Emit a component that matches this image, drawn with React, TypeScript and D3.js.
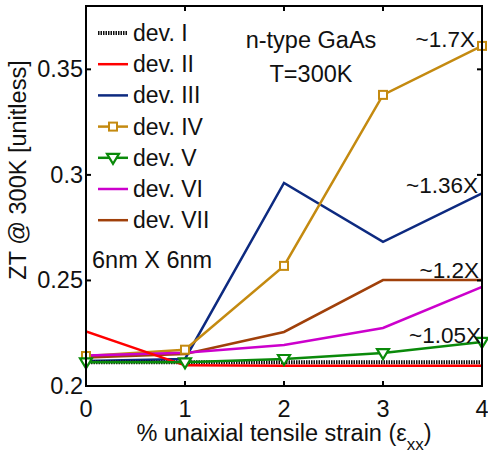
import React from 'react';
import * as d3 from 'd3';

// strain values (% uniaxial tensile)
const strain = [0, 1, 2, 3, 4];

const devI = [0.2112, 0.2112, 0.2112, 0.2112, 0.2112];
const devII = [0.2258, 0.2098, 0.2096, 0.2096, 0.2096];
const devIII = [0.2118, 0.2128, 0.2962, 0.2683, 0.2912];
const devIV = [0.2142, 0.2172, 0.2569, 0.3379, 0.3611];
const devV = [0.2112, 0.2112, 0.2128, 0.2156, 0.2209];
const devVI = [0.2145, 0.2158, 0.2194, 0.2275, 0.2469];
const devVII = [0.2135, 0.2152, 0.2256, 0.2502, 0.2502];

const seriesNames = ['dev. I', 'dev. II', 'dev. III', 'dev. IV', 'dev. V', 'dev. VI', 'dev. VII'];
const seriesValues = [devI, devII, devIII, devIV, devV, devVI, devVII];
const seriesColors = ['#111111', '#ff0000', '#0d2a80', '#c48a10', '#0a8a0a', '#cc00cc', '#a0400a'];
const seriesMarkers = ['none', 'none', 'none', 'square', 'triangle', 'none', 'none'];

const xTicks = [0, 1, 2, 3, 4];
const yTicks = [0.2, 0.25, 0.3, 0.35];

const annotations = [
  { text: '~1.7X', x: 475, y: 47 },
  { text: '~1.36X', x: 478, y: 193 },
  { text: '~1.2X', x: 479, y: 278 },
  { text: '~1.05X', x: 481, y: 343 },
];

const W = 488;
const H = 455;
const margin = { top: 6, right: 6, bottom: 69, left: 86 };
const font = 'Liberation Sans, Arial, Helvetica, sans-serif';

const Marker = ({ kind, x, y, color }: { kind: string; x: number; y: number; color: string }) => {
  if (kind === 'square') {
    return <rect x={x - 4} y={y - 4} width={8} height={8} fill="white" stroke={color} strokeWidth={2} />;
  }
  if (kind === 'triangle') {
    return (
      <path
        d={`M${x - 6},${y - 4} L${x + 6},${y - 4} L${x},${y + 6} Z`}
        fill="white"
        stroke={color}
        strokeWidth={2.2}
      />
    );
  }
  return null;
};

const App = () => {
  const innerW = W - margin.left - margin.right;
  const innerH = H - margin.top - margin.bottom;

  const x = d3.scaleLinear().domain([0, 4]).range([margin.left, margin.left + innerW]);
  const y = d3.scaleLinear().domain([0.2, 0.38]).range([margin.top + innerH, margin.top]);

  const line = d3
    .line<number>()
    .x((_, i) => x(strain[i]))
    .y((d) => y(d));

  // draw order: later series on top
  const order = [2, 3, 6, 5, 0, 1, 4];

  const legendTop = 33;
  const legendStep = 31.2;

  return (
    <div style={{ position: 'absolute', left: 0, top: 0 }}>
      <svg width={W} height={H} style={{ display: 'block', background: 'white' }}>
        <defs>
          <clipPath id="plot">
            <rect x={margin.left} y={margin.top} width={innerW} height={innerH} />
          </clipPath>
        </defs>

        {/* series */}
        <g clipPath="url(#plot)">
          {order.map((si) => (
            <path
              key={si}
              d={line(seriesValues[si]) || ''}
              fill="none"
              stroke={seriesColors[si]}
              strokeWidth={si === 0 ? 4 : 2.5}
              strokeDasharray={si === 0 ? '1.5,1' : undefined}
            />
          ))}
        </g>
        {order.map((si) =>
          seriesMarkers[si] !== 'none'
            ? seriesValues[si].map((v, i) => (
                <Marker key={`${si}-${i}`} kind={seriesMarkers[si]} x={x(strain[i])} y={y(v)} color={seriesColors[si]} />
              ))
            : null
        )}

        {/* frame */}
        <rect
          x={margin.left}
          y={margin.top}
          width={innerW}
          height={innerH}
          fill="none"
          stroke="black"
          strokeWidth={2}
        />

        {/* ticks */}
        {xTicks.map((t) => (
          <g key={`xt${t}`}>
            <line x1={x(t)} x2={x(t)} y1={y(0.2)} y2={y(0.2) - 5} stroke="black" strokeWidth={2} />
            <line x1={x(t)} x2={x(t)} y1={y(0.38)} y2={y(0.38) + 5} stroke="black" strokeWidth={2} />
            <text
              x={x(t)}
              y={417}
              textAnchor="middle"
              fontFamily={font}
              fontSize={23.5}
              fill="#111"
            >
              {t}
            </text>
          </g>
        ))}
        {yTicks.map((t) => (
          <g key={`yt${t}`}>
            <line x1={x(0)} x2={x(0) + 5} y1={y(t)} y2={y(t)} stroke="black" strokeWidth={2} />
            <line x1={x(4)} x2={x(4) - 5} y1={y(t)} y2={y(t)} stroke="black" strokeWidth={2} />
            <text
              x={x(0) - 3}
              y={y(t) + 8}
              textAnchor="end"
              fontFamily={font}
              fontSize={23.5}
              fill="#111"
            >
              {d3.format('')(t)}
            </text>
          </g>
        ))}

        {/* axis labels */}
        <text x={284} y={441} textAnchor="middle" fontFamily={font} fontSize={23.5} fill="#111">
          % unaixial tensile strain (ε
          <tspan fontSize={17} dy={9}>xx</tspan>
          <tspan dy={-9}>)</tspan>
        </text>
        <text
          transform={`translate(26,170) rotate(-90)`}
          textAnchor="middle"
          fontFamily={font}
          fontSize={23.5}
          fill="#111"
        >
          ZT @ 300K [unitless]
        </text>

        {/* legend */}
        {seriesNames.map((name, i) => {
          const cy = legendTop + i * legendStep;
          return (
            <g key={name}>
              <line
                x1={98}
                x2={128}
                y1={cy}
                y2={cy}
                stroke={seriesColors[i]}
                strokeWidth={i === 0 ? 4 : 2.5}
                strokeDasharray={i === 0 ? '1.5,1' : undefined}
              />
              <Marker kind={seriesMarkers[i]} x={113} y={cy} color={seriesColors[i]} />
              <text x={133} y={cy + 8} fontFamily={font} fontSize={23} fill="#111">
                {name}
              </text>
            </g>
          );
        })}

        {/* annotations */}
        <text x={311} y={48} textAnchor="middle" fontFamily={font} fontSize={23.5} fill="#111">
          n-type GaAs
        </text>
        <text x={311} y={82} textAnchor="middle" fontFamily={font} fontSize={23.5} fill="#111">
          T=300K
        </text>
        <text x={92} y={268} fontFamily={font} fontSize={23.5} fill="#111">
          6nm X 6nm
        </text>
        {annotations.map((a) => (
          <text key={a.text} x={a.x} y={a.y} textAnchor="end" fontFamily={font} fontSize={22.5} fill="#111">
            {a.text}
          </text>
        ))}
      </svg>
    </div>
  );
};

export default App;
